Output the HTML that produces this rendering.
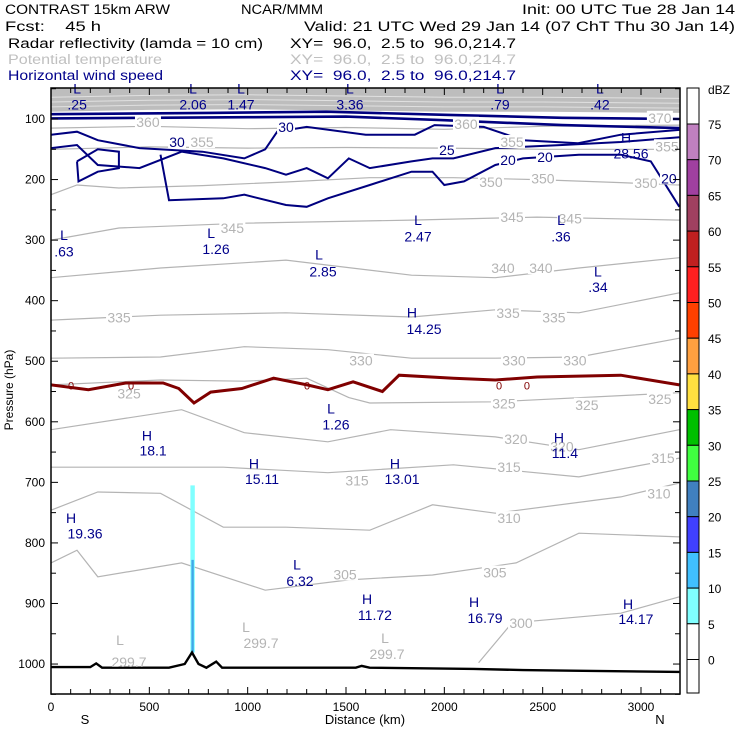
<!DOCTYPE html>
<html><head><meta charset="utf-8"><style>
html,body{margin:0;padding:0;background:#fff}
svg{display:block;font-family:"Liberation Sans",sans-serif}
</style></head><body>
<svg id="chart" width="740" height="740" viewBox="0 0 740 740" xmlns="http://www.w3.org/2000/svg">
<g font-size="13.5">
<text xml:space="preserve" x="5" y="14" textLength="165" lengthAdjust="spacingAndGlyphs">CONTRAST 15km ARW</text>
<text xml:space="preserve" x="241" y="14" textLength="82" lengthAdjust="spacingAndGlyphs">NCAR/MMM</text>
<text xml:space="preserve" x="522" y="14" textLength="213" lengthAdjust="spacingAndGlyphs">Init: 00 UTC Tue 28 Jan 14</text>
<text xml:space="preserve" x="5" y="31" textLength="96" lengthAdjust="spacingAndGlyphs">Fcst:    45 h</text>
<text xml:space="preserve" x="304" y="31" textLength="431" lengthAdjust="spacingAndGlyphs">Valid: 21 UTC Wed 29 Jan 14 (07 ChT Thu 30 Jan 14)</text>
<text xml:space="preserve" x="8" y="48" textLength="255" lengthAdjust="spacingAndGlyphs">Radar reflectivity (lamda = 10 cm)</text>
<text xml:space="preserve" x="290" y="48" textLength="226" lengthAdjust="spacingAndGlyphs">XY=  96.0,  2.5 to  96.0,214.7</text>
<text xml:space="preserve" x="8" y="64" fill="#c0c0c0" textLength="154" lengthAdjust="spacingAndGlyphs">Potential temperature</text>
<text xml:space="preserve" x="290" y="64" fill="#c0c0c0" textLength="226" lengthAdjust="spacingAndGlyphs">XY=  96.0,  2.5 to  96.0,214.7</text>
<text xml:space="preserve" x="8" y="80" fill="#00008b" textLength="155" lengthAdjust="spacingAndGlyphs">Horizontal wind speed</text>
<text xml:space="preserve" x="290" y="80" fill="#00008b" textLength="226" lengthAdjust="spacingAndGlyphs">XY=  96.0,  2.5 to  96.0,214.7</text>
</g>
<defs><clipPath id="plotclip"><rect x="51" y="88" width="629" height="606"/></clipPath></defs>
<g id="plot" clip-path="url(#plotclip)"></g>
<g id="labels"></g>
<g id="axes"></g>
<g id="cbar"></g>
</svg>
<script>
// ---- data ----
const tickPressures=[100,200,300,400,500,600,700,800,900,1000];
const tickKm=[0,500,1000,1500,2000,2500,3000];
const cbLevels=[75,70,65,60,55,50,45,40,35,30,25,20,15,10,5,0];
const cbColors=["#ffffff","#c080c0","#a040a0","#a04060","#c02020","#ff2020","#ff4000","#ffa040","#ffe040","#00c000","#40ff40","#4080c0","#4040ff","#40c0ff","#80ffff","#ffffff","#ffffff"];
const thetaLevels=[360,355,350,345,340,335,330,325,320,315,310,305,300];
const thetaKm=[
[0,500,1000,1500,2000,2500,3200],
[0,500,1000,1500,2000,2500,3200],
[0,132,345,770,1195,1620,2046,2472,2897,3200],
[0,345,983,1833,2472,3195],
[0,557,1195,1833,2259,2684,3195],
[0,557,1195,1833,2259,2684,3195],
[0,557,983,1408,1833,2259,2684,3195],
[0,557,983,1300,1514,1621,2259,3195],
[0,664,983,1408,1727,2259,2684,3195],
[0,876,1408,2046,2684,3195],
[0,238,557,876,1195,1621,1940,2259,2897,3195],
[0,132,238,664,1089,1514,1940,2365,2684,3195],
[2174,2344,2897,3195]
];
const thetaP=[
[115,112,116,114,117,112,110],
[150,146,148,147,148,150,150],
[225,209,214,210,204,197,197,200,205,209],
[300,280,272,267,262,267],
[362,346,333,358,362,346,329],
[432,424,420,427,415,420,387],
[495,493,476,481,495,495,493,462],
[539,531,533,528,560,569,567,552],
[613,580,618,633,613,625,646,613],
[675,675,684,671,691,660],
[746,716,718,774,774,779,737,751,724,701],
[833,812,856,833,878,861,853,833,784,790],
[998,932,916,889]
];
const windKm=[
[0,800,1400,2000,2600,3195],
[0,1000,1500,2000,2600,3195],
[0,132,238,450,770,983,1089,1150,1300,1600,1850,1950,2200,2400,2680,2897,3195],
[0,132,238,450,664,876,1089,1195,1300,1408,1514,1621,1833,1940,2046,2259,2600,2897,3195],
[557,600,876,983,1195,1300,1408,1621,1833,1940,2000,2100,2259,2400,2684,2897,3050,3195],
[132,140,238,345,345,238,132]
];
const windP=[
[92,90,88,93,98,100],
[99,97,96,102,110,115],
[126,121,135,148,154,165,150,121,113,126,126,110,113,135,140,126,118],
[148,143,176,181,154,165,181,192,181,198,165,181,170,165,165,148,143,138,130],
[159,234,231,225,242,245,231,209,187,187,209,203,176,165,159,159,170,245],
[170,203,187,181,154,150,170]
];
const frzKm=[0,190,380,570,650,727,812,970,1132,1302,1408,1536,1685,1770,2046,2259,2472,2897,3195];
const frzP=[539,547,536,536,545,569,551,545,528,539,547,534,550,523,528,531,526,523,539];
const terrKm=[0,200,230,260,600,680,717,750,790,840,870,950,1550,1580,1620,2150,2400,2650,3195];
const terrP=[1005,1005,999,1006,1006,1000,981,1000,1006,996,1006,1006,1006,1003,1006,1008,1010,1011,1013];
const topBandKm=[0,500,1000,1500,2000,2500,3200];
const topBandP=[88,85,84,86,88,88,90];
const radarKm=[720];
const radarTopP=[705];
const radarCoreTopP=[828];
const extremaText=["L",".25","L","2.06","L","1.47","L","3.36","L",".79","L",".42","H","28.56","L",".63","L","1.26","L","2.85","L","2.47","L",".36","L",".34","H","14.25","L","1.26","H","18.1","H","15.11","H","13.01","H","11.4","H","19.36","L","6.32","H","11.72","H","16.79","H","14.17"];
const extremaKm=[133,133,722,722,966,966,1520,1520,2283,2283,2791,2791,2924,2949,66,66,814,839,1363,1383,1866,1866,2593,2593,2781,2781,1835,1897,1424,1449,488,519,1032,1073,1749,1785,2583,2613,102,173,1251,1266,1607,1647,2151,2207,2934,2974];
const extremaP=[48,74,48,74,48,74,48,74,48,74,48,74,129,155,290,317,287,313,322,350,265,292,265,292,350,376,418,445,576,603,621,646,667,693,667,693,624,650,757,783,834,861,891,917,896,922,899,924];
const thetaLabText=["345","345","345","340","340","335","335","335","330","330","330","325","325","325","325","320","320","315","315","315","310","310","305","305","300","350","350","350","355","355","355","360","360","370"];
const thetaLabKm=[922,2344,2640,2298,2491,346,2324,2557,1576,2354,2664,397,2303,2725,3096,2364,2598,2329,1556,3112,2329,3091,1495,2257,2390,2237,2501,3025,768,2344,3132,493,2110,3096];
const thetaLabP=[280,262,264,346,346,428,420,428,499,499,499,553,570,572,562,628,641,675,697,660,759,718,852,849,932,204,198,206,138,138,145,105,108,98];
const windLabText=["30","30","25","20","20","20"];
const windLabKm=[641,1195,2013,2324,2512,3142];
const windLabP=[138,113,151,168,163,198];
const frzLabKm=[102,407,1302,2278,2420];
// ---- scales ----
const X=km=>51+km*0.19667;
const Y=p=>119+(p-100)*0.6056;
const NS="http://www.w3.org/2000/svg";
function mk(tag,attrs,parent){const e=document.createElementNS(NS,tag);for(const k in attrs)e.setAttribute(k,attrs[k]);parent.appendChild(e);return e;}
const plot=document.getElementById('plot');
const labels=document.getElementById('labels');
const axes=document.getElementById('axes');
const cbar=document.getElementById('cbar');
function pts(ks,ps){return ks.map((k,i)=>X(k).toFixed(1)+","+Y(ps[i]).toFixed(1)).join(" ");}
let bandPts=X(0)+","+Y(40)+" "+pts(topBandKm,topBandP)+" "+X(3200)+","+Y(40);
let band=mk('polygon',{points:bandPts,fill:"#bdbdbd"},plot);


for(const off of [-8,-16,-24]){
 let wl=mk('polyline',{points:pts(topBandKm,topBandP.map(v=>v+off)),fill:"none",stroke:"#e0e0e0","stroke-width":1},plot);
 
 
}
thetaLevels.forEach((lv,i)=>{
 const l=mk('polyline',{points:pts(thetaKm[i],thetaP[i]),fill:"none",stroke:"#b4b4b4","stroke-width":1.2},plot);
 
 
});
radarKm.forEach((k,i)=>{
 const r1=mk('rect',{x:X(k)-2.2,y:Y(radarTopP[i]),width:4.4,height:Y(terrP[6])-Y(radarTopP[i]),fill:"#80ffff"},plot);
 
 
 const r2=mk('rect',{x:X(k)-1.2,y:Y(radarCoreTopP[i]),width:2.4,height:Y(terrP[6])-Y(radarCoreTopP[i]),fill:"#40a8e8"},plot);
 
 
});
windKm.forEach((ks,i)=>{
 const l=mk('polyline',{points:pts(ks,windP[i]),fill:"none",stroke:"#00007f","stroke-width":i<2?2.6:2},plot);
 
 
});
const fz=mk('polyline',{points:pts(frzKm,frzP),fill:"none",stroke:"#800000","stroke-width":3},plot);


const tb=mk('polygon',{points:pts(terrKm,terrP)+" "+X(3200)+","+Y(1100)+" "+X(0)+","+Y(1100),fill:"#ffffff"},plot);


const tr=mk('polyline',{points:pts(terrKm,terrP),fill:"none",stroke:"#000","stroke-width":2.4},plot);


function txt(s,x,y,fill,size,name,anchor){const t=mk('text',{x:x,y:y,fill:fill,"font-size":size,"text-anchor":anchor||"middle"},labels);t.textContent=s;return t;}
thetaLabText.forEach((s,i)=>{
 const bg=mk('rect',{x:X(thetaLabKm[i])-13,y:Y(thetaLabP[i])-7,width:26,height:13,fill:"#fff"},labels);
 
 
 const t=txt(s,X(thetaLabKm[i]),Y(thetaLabP[i])+5,"#b4b4b4",14);
 
 
});
windLabText.forEach((s,i)=>{
 const bg=mk('rect',{x:X(windLabKm[i])-9,y:Y(windLabP[i])-7,width:18,height:13,fill:"#fff"},labels);
 
 
 const t=txt(s,X(windLabKm[i]),Y(windLabP[i])+5,"#00007f",14);
 
 
});
frzLabKm.forEach((k,i)=>{
 const t=txt("0",X(k),Y(540)+4,"#800000",11);
 
 
});
extremaText.forEach((s,i)=>{
 const t=txt(s,X(extremaKm[i]),Y(extremaP[i])+6,"#00008b",14);
 
 
});
[[120,640,"L"],[129,662,"299.7"],[246,627,"L"],[261,643,"299.7"],[385,638,"L"],[387,654,"299.7"]].forEach(a=>{
 const t=txt(a[2],a[0],a[1]+5,"#b4b4b4",14);
 
 
});
const fr=mk('rect',{x:51,y:88,width:629,height:606,fill:"none",stroke:"#000","stroke-width":1.5},axes);


tickPressures.forEach(p=>{
 const t=txt(String(p),45,Y(p)+4,"#000",12,null,"end");
 
 
});
for(let p=50;p<=1050;p+=50){
 const len=(p%100===0)?7:5;
 mk('line',{x1:51,y1:Y(p),x2:51+len,y2:Y(p),stroke:"#000"},axes);
 mk('line',{x1:680,y1:Y(p),x2:680-len,y2:Y(p),stroke:"#000"},axes);
}
for(let k=100;k<3200;k+=100){
 const len=(k%500===0)?7:5;
 mk('line',{x1:X(k),y1:694,x2:X(k),y2:694-len,stroke:"#000"},axes);
 mk('line',{x1:X(k),y1:88,x2:X(k),y2:88+len,stroke:"#000"},axes);
}
tickKm.forEach(k=>{
 const t=txt(String(k),X(k),711,"#000",12);
 
 
});
let t1=txt("Distance (km)",365,724,"#000",13);


let t2=txt("S",85,724,"#000",13);


let t3=txt("N",660,724,"#000",13);


let t4=txt("Pressure (hPa)",0,0,"#000",12);
t4.setAttribute('transform','translate(13,390) rotate(-90)');


const cbY=v=>124+(75-v)*7.14;
cbColors.forEach((c,i)=>{
 const top=i===0?88:cbY(cbLevels[i-1]);
 const bot=i<cbLevels.length?cbY(cbLevels[i]):693;
 const r=mk('rect',{x:687,y:top,width:12,height:bot-top,fill:c,stroke:"#000","stroke-width":1},cbar);
 
 
});
cbLevels.forEach(v=>{
 const t=txt(String(v),708,cbY(v)+5,"#000",12,null,"start");
 
 
});
let t5=txt("dBZ",708,94,"#000",12,null,"start");


</script>
</body></html>
